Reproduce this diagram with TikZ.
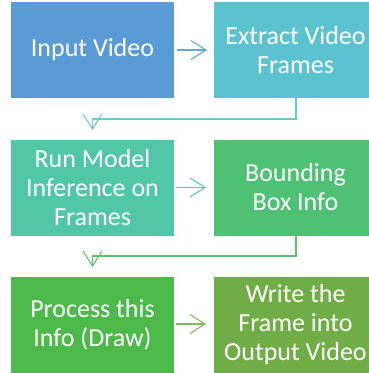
\documentclass[tikz,border=0pt]{standalone}
\usepackage{fontspec}
\setmainfont{Carlito}
\usetikzlibrary{arrows.meta}

% fill colours of the six process steps
\definecolor{stepA}{HTML}{5B9BD5}
\definecolor{stepB}{HTML}{5AC3CF}
\definecolor{stepC}{HTML}{52C7A8}
\definecolor{stepD}{HTML}{4EC174}
\definecolor{stepE}{HTML}{4CB94A}
\definecolor{stepF}{HTML}{70AD47}
% connector colours
\definecolor{linkA}{HTML}{62A8D8}
\definecolor{linkB}{HTML}{62CAD3}
\definecolor{linkC}{HTML}{5CCAA4}
\definecolor{linkD}{HTML}{58C468}
\definecolor{linkE}{HTML}{82B95E}

\tikzset{
  stepbox/.style={rectangle, minimum width=162bp, minimum height=96bp,
    inner sep=0pt, align=center, text=white,
    font=\fontsize{26bp}{29bp}\selectfont},
  flow/.style={line width=1.1bp,
    -{Straight Barb[length=15bp,width=19bp,line width=1.1bp]}},
}

\begin{document}
\begin{tikzpicture}[x=1bp,y=-1bp]
  \useasboundingbox (0,0) rectangle (369,373);
  \clip (0,0) rectangle (369,373);

  % first row
  \node[stepbox, fill=stepA] (input)   at (92.5,50)  {Input Video};
  \node[stepbox, fill=stepB] (extract) at (295.5,50) {Extract Video\\Frames};
  % second row
  \node[stepbox, fill=stepC] (infer)   at (92.5,187.5)  {Run Model\\Inference on\\Frames};
  \node[stepbox, fill=stepD] (bbox)    at (295.5,187.5) {Bounding\\Box Info};
  % third row
  \node[stepbox, fill=stepE] (process) at (92.5,325)  {Process this\\Info (Draw)};
  \node[stepbox, fill=stepF] (write)   at (295.5,325) {Write the\\Frame into\\Output Video};

  % arrows within each row
  \coordinate (a1s) at (177,50);    \coordinate (a1e) at (207,50);
  \coordinate (a2s) at (176,187.5); \coordinate (a2e) at (206,187.5);
  \coordinate (a3s) at (176,324);   \coordinate (a3e) at (206,324);
  \draw[flow, linkA] (a1s) -- (a1e);
  \draw[flow, linkC] (a2s) -- (a2e);
  \draw[flow, linkE] (a3s) -- (a3e);

  % elbow links from one row to the next
  \coordinate (t1) at (92.5,130);
  \coordinate (t2) at (92.5,267);
  \draw[flow, linkB] (extract.south -| 296,0) |- (92.5,119) -- (t1);
  \draw[flow, linkD] (bbox.south -| 296,0) |- (92.5,256) -- (t2);
\end{tikzpicture}
\end{document}
